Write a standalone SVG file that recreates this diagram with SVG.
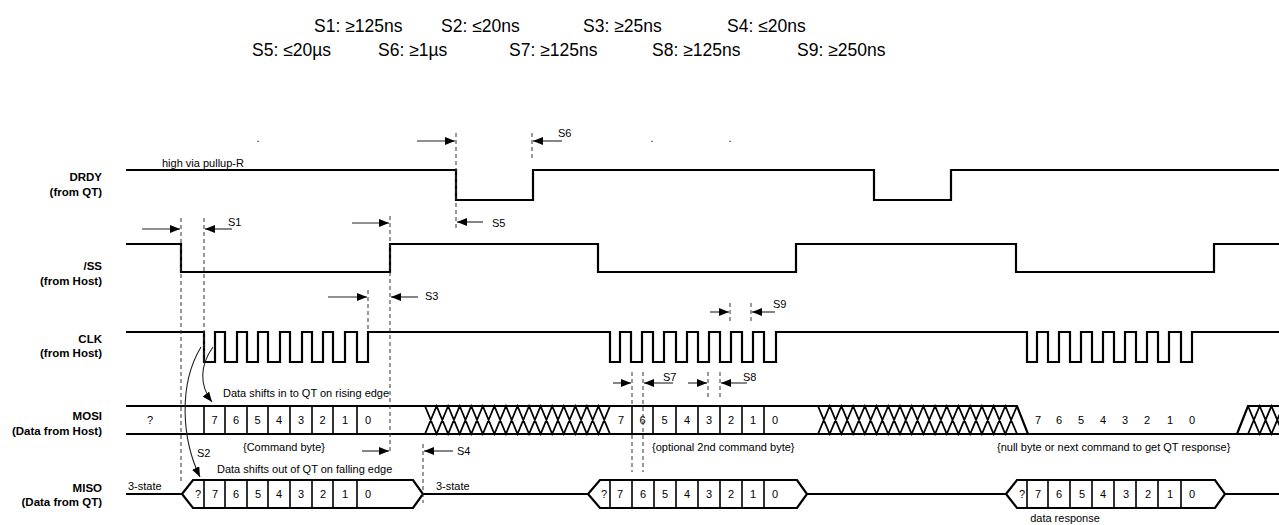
<svg xmlns="http://www.w3.org/2000/svg" width="1279" height="525" viewBox="0 0 1279 525">
<defs>
<style>
text{font-family:"Liberation Sans",Arial,sans-serif;fill:#000}
.hd{font-size:17.5px}
.lb{font-size:11.5px;font-weight:bold;text-anchor:end}
.sm{font-size:11px}
.dg{font-size:11px;text-anchor:middle}
.sig{fill:none;stroke:#000;stroke-width:2.2;stroke-linejoin:miter}
.cell{fill:none;stroke:#000;stroke-width:1.6}
.hatch{fill:none;stroke:#000;stroke-width:1.8}
.dash{fill:none;stroke:#333;stroke-width:1;stroke-dasharray:4,3}
.arr{fill:none;stroke:#222;stroke-width:1.1;marker-end:url(#ah)}
</style>
<marker id="ah" viewBox="0 0 10 8" refX="10" refY="4" markerWidth="10" markerHeight="8" orient="auto" markerUnits="userSpaceOnUse"><path d="M0,0 L10,4 L0,8 z" fill="#000"/></marker>
</defs>
<rect width="1279" height="525" fill="#fff"/>

<g id="header">
<text class="hd" x="314" y="32">S1: ≥125ns</text>
<text class="hd" x="441" y="32">S2: ≤20ns</text>
<text class="hd" x="583" y="32">S3: ≥25ns</text>
<text class="hd" x="727" y="32">S4: ≤20ns</text>
<text class="hd" x="252" y="56">S5: ≤20µs</text>
<text class="hd" x="378" y="56">S6: ≥1µs</text>
<text class="hd" x="509" y="56">S7: ≥125ns</text>
<text class="hd" x="652" y="56">S8: ≥125ns</text>
<text class="hd" x="797" y="56">S9: ≥250ns</text>
</g>

<g id="labels">
<text class="lb" x="102" y="181">DRDY</text>
<text class="lb" x="102" y="196">(from QT)</text>
<text class="lb" x="102" y="270">/SS</text>
<text class="lb" x="102" y="285">(from Host)</text>
<text class="lb" x="102" y="343">CLK</text>
<text class="lb" x="102" y="357">(from Host)</text>
<text class="lb" x="102" y="420">MOSI</text>
<text class="lb" x="102" y="435">(Data from Host)</text>
<text class="lb" x="102" y="492">MISO</text>
<text class="lb" x="102" y="506">(Data from QT)</text>
</g>

<g id="drdy">
<path class="sig" d="M126,170 H456 V200 H533 V170 H874 V200 H951 V170 H1279"/>
<text class="sm" x="162" y="167">high via pullup-R</text>
<text class="sm" x="256.5" y="142">.</text>
<text class="sm" x="650.5" y="142">.</text>
<text class="sm" x="728.5" y="142">.</text>
</g>

<g id="ss">
<path class="sig" d="M126,244 H181 V272 H390 V244 H598 V272 H796 V244 H1016 V272 H1214 V244 H1279"/>
</g>

<g id="clk">
<path class="sig" d="M126,332 H204 V362 H215 V332 H225 V362 H237 V332 H247 V362 H258 V332 H268 V362 H280 V332 H290 V362 H302 V332 H312 V362 H323 V332 H333 V362 H345 V332 H357 V362 H368 V332 H610 V362 H620 V332 H631 V362 H642 V332 H653 V362 H664 V332 H676 V362 H687 V332 H698 V362 H709 V332 H720 V362 H731 V332 H742 V362 H753 V332 H764 V362 H776 V332 H1027 V362 H1037 V332 H1048 V362 H1059 V332 H1070 V362 H1081 V332 H1092 V362 H1103 V332 H1114 V362 H1125 V332 H1136 V362 H1147 V332 H1158 V362 H1169 V332 H1181 V362 H1192 V332 H1279"/>
</g>

<g id="mosi">
<path class="sig" d="M126,406 H1017 L1028,434 M126,434 H1279 M1237,434 L1248,406 H1279"/>
<path class="cell" d="M204,406 V434 M225,406 V434 M247,406 V434 M268,406 V434 M290,406 V434 M312,406 V434 M333,406 V434 M357,406 V434 M632,406 V434 M653,406 V434 M676,406 V434 M698,406 V434 M720,406 V434 M742,406 V434 M764,406 V434"/>
<path class="hatch" d="M425,406 L436.56,434 L448.13,406 L459.69,434 L471.25,406 L482.81,434 L494.38,406 L505.94,434 L517.5,406 L529.06,434 L540.63,406 L552.19,434 L563.75,406 L575.31,434 L586.88,406 L598.44,434 L610,406 M425,434 L436.56,406 L448.13,434 L459.69,406 L471.25,434 L482.81,406 L494.38,434 L505.94,406 L517.5,434 L529.06,406 L540.63,434 L552.19,406 L563.75,434 L575.31,406 L586.88,434 L598.44,406 L610,434"/>
<path class="hatch" d="M818,406 L829.71,434 L841.41,406 L853.12,434 L864.82,406 L876.53,434 L888.24,406 L899.94,434 L911.65,406 L923.35,434 L935.06,406 L946.76,434 L958.47,406 L970.18,434 L981.88,406 L993.59,434 L1005.29,406 L1017,434 M818,434 L829.71,406 L841.41,434 L853.12,406 L864.82,434 L876.53,406 L888.24,434 L899.94,406 L911.65,434 L923.35,406 L935.06,434 L946.76,406 L958.47,434 L970.18,406 L981.88,434 L993.59,406 L1005.29,434 L1017,406"/>
<path class="hatch" d="M1248,406 L1259.7,434 L1271.4,406 L1283.1,434 M1248,434 L1259.7,406 L1271.4,434 L1283.1,406"/>
<text class="dg" x="150" y="424">?</text>
<text class="dg" x="214.5" y="424">7</text>
<text class="dg" x="236" y="424">6</text>
<text class="dg" x="257.5" y="424">5</text>
<text class="dg" x="279" y="424">4</text>
<text class="dg" x="301" y="424">3</text>
<text class="dg" x="322.5" y="424">2</text>
<text class="dg" x="345" y="424">1</text>
<text class="dg" x="368" y="424">0</text>
<text class="dg" x="621" y="424">7</text>
<text class="dg" x="642.5" y="424">6</text>
<text class="dg" x="664.5" y="424">5</text>
<text class="dg" x="687" y="424">4</text>
<text class="dg" x="709" y="424">3</text>
<text class="dg" x="731" y="424">2</text>
<text class="dg" x="753" y="424">1</text>
<text class="dg" x="775" y="424">0</text>
<text class="dg" x="1038" y="424">7</text>
<text class="dg" x="1059" y="424">6</text>
<text class="dg" x="1081" y="424">5</text>
<text class="dg" x="1103" y="424">4</text>
<text class="dg" x="1125" y="424">3</text>
<text class="dg" x="1147" y="424">2</text>
<text class="dg" x="1170" y="424">1</text>
<text class="dg" x="1192" y="424">0</text>
<text class="sm" x="223" y="397">Data shifts in to QT on rising edge</text>
<text class="sm" x="243" y="451">{Command byte}</text>
<text class="sm" x="652" y="451">{optional 2nd command byte}</text>
<text class="sm" x="997" y="451">{null byte or next command to get QT response}</text>
</g>

<g id="miso">
<path class="sig" d="M126,494 H182 M423,494 H588 M807,494 H1006 M1225,494 H1279"/>
<path class="sig" d="M182,494 L193,480 H413 L423,494 L413,508 H193 Z"/>
<path class="sig" d="M588,494 L600,480 H797 L807,494 L797,508 H600 Z"/>
<path class="sig" d="M1006,494 L1017,480 H1215 L1225,494 L1215,508 H1017 Z"/>
<path class="cell" d="M204,480 V508 M225,480 V508 M247,480 V508 M268,480 V508 M290,480 V508 M312,480 V508 M333,480 V508 M357,480 V508 M610,480 V508 M632,480 V508 M654,480 V508 M676,480 V508 M698,480 V508 M720,480 V508 M742,480 V508 M764,480 V508 M1027,480 V508 M1048,480 V508 M1070,480 V508 M1092,480 V508 M1114,480 V508 M1136,480 V508 M1158,480 V508 M1181,480 V508"/>
<text class="sm" x="128" y="490">3-state</text>
<text class="sm" x="436" y="490">3-state</text>
<text class="dg" x="198" y="498">?</text>
<text class="dg" x="215" y="498">7</text>
<text class="dg" x="236" y="498">6</text>
<text class="dg" x="258" y="498">5</text>
<text class="dg" x="279" y="498">4</text>
<text class="dg" x="301" y="498">3</text>
<text class="dg" x="323" y="498">2</text>
<text class="dg" x="345" y="498">1</text>
<text class="dg" x="368" y="498">0</text>
<text class="dg" x="604" y="498">?</text>
<text class="dg" x="620" y="498">7</text>
<text class="dg" x="643" y="498">6</text>
<text class="dg" x="665" y="498">5</text>
<text class="dg" x="687" y="498">4</text>
<text class="dg" x="709" y="498">3</text>
<text class="dg" x="731" y="498">2</text>
<text class="dg" x="753" y="498">1</text>
<text class="dg" x="775" y="498">0</text>
<text class="dg" x="1022" y="498">?</text>
<text class="dg" x="1038" y="498">7</text>
<text class="dg" x="1059" y="498">6</text>
<text class="dg" x="1082" y="498">5</text>
<text class="dg" x="1103" y="498">4</text>
<text class="dg" x="1126" y="498">3</text>
<text class="dg" x="1148" y="498">2</text>
<text class="dg" x="1170" y="498">1</text>
<text class="dg" x="1192" y="498">0</text>
<text class="sm" x="217" y="473">Data shifts out of QT on falling edge</text>
<text class="dg" x="1065" y="522">data response</text>
</g>

<g id="connectors">
<path class="dash" d="M181,218 V483 M204,218 V362 M390,216 V453 M368,290 V332 M456,133 V230 M532,133 V158 M423,444 V503 M632,372 V472 M643,372 V472 M708,372 V398 M720,372 V398 M730,303 V323 M751,303 V323"/>
<path class="arr" d="M417,141 H455"/>
<path class="arr" d="M562,141 H533"/>
<path class="arr" d="M483,222 H457"/>
<path class="arr" d="M142,229 H180"/>
<path class="arr" d="M232,229 H205"/>
<path class="arr" d="M352,223 H389"/>
<path class="arr" d="M328,297 H367"/>
<path class="arr" d="M418,297 H391"/>
<path class="arr" d="M710,312 H729"/>
<path class="arr" d="M775,312 H752"/>
<path class="arr" d="M613,383 H631"/>
<path class="arr" d="M673,383 H644"/>
<path class="arr" d="M688,383 H707"/>
<path class="arr" d="M747,383 H721"/>
<path class="arr" d="M362,451 H389"/>
<path class="arr" d="M453,451 H424"/>
<path class="arr" d="M201,347 C178,385 182,440 200,477"/>
<path class="arr" d="M213,347 C200,365 199,385 212,402"/>
<text class="sm" x="558" y="137">S6</text>
<text class="sm" x="492" y="227">S5</text>
<text class="sm" x="228" y="226">S1</text>
<text class="sm" x="425" y="300">S3</text>
<text class="sm" x="773" y="308">S9</text>
<text class="sm" x="663" y="381">S7</text>
<text class="sm" x="743" y="381">S8</text>
<text class="sm" x="457" y="455">S4</text>
<text class="sm" x="197" y="457">S2</text>
</g>
</svg>
